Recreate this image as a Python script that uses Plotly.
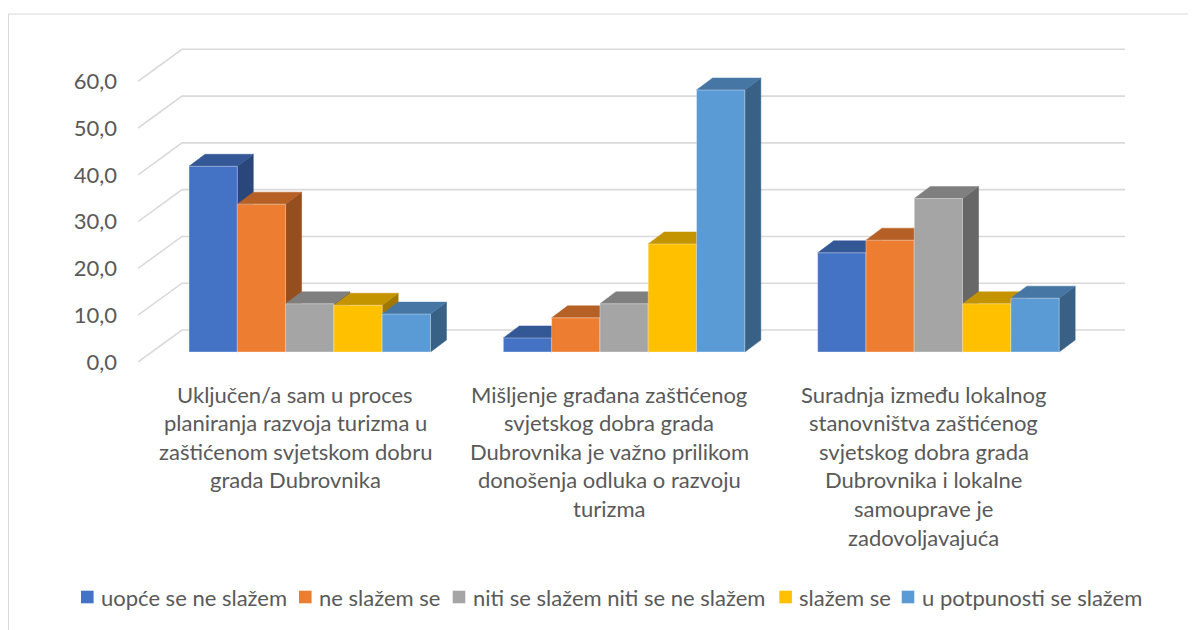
import plotly.graph_objects as go

# ---------------- data ----------------
category_lines = [
    ["Uključen/a sam u proces", "planiranja razvoja turizma u",
     "zaštićenom svjetskom dobru", "grada Dubrovnika"],
    ["Mišljenje građana zaštićenog", "svjetskog dobra grada",
     "Dubrovnika je važno prilikom", "donošenja odluka o razvoju", "turizma"],
    ["Suradnja između lokalnog", "stanovništva zaštićenog",
     "svjetskog dobra grada", "Dubrovnika i lokalne", "samouprave je",
     "zadovoljavajuća"],
]
series_names = ["uopće se ne slažem", "ne slažem se",
                "niti se slažem niti se ne slažem", "slažem se",
                "u potpunosti se slažem"]
v_uopce = [39.7, 3.0, 21.2]
v_ne = [31.6, 7.3, 23.9]
v_niti = [10.3, 10.3, 32.8]
v_slazem = [10.0, 23.1, 10.3]
v_potpuno = [8.1, 56.0, 11.5]
series_values = [v_uopce, v_ne, v_niti, v_slazem, v_potpuno]
y_ticks = [0, 10, 20, 30, 40, 50, 60]

# ---------------- style / geometry (page pixels) ----------------
colors = ["#4472C4", "#ED7D31", "#A5A5A5", "#FFC000", "#5B9BD5"]
FONT = "Lato"
TXT = "#595959"
GRID = "#d9d9d9"

W, H = 1196, 630
BODY = 8                       # default page body margin
PX_L, PX_R = 138, 1125         # plot area in page pixels
PX_BOTTOM, PX_TOP = 362, 40
PPU_Y = 4.678                  # pixels per value unit
PPU_X = 314.33                 # pixels per category


def shade(hexc, f):
    h = hexc.lstrip("#")
    r, g, b = (int(h[i:i + 2], 16) for i in (0, 2, 4))
    return "rgb(%d,%d,%d)" % (r * f, g * f, b * f)


def px_x(px):
    return (px - PX_L) / (PX_R - PX_L)


def px_y(py):
    return (PX_BOTTOM - py) / (PX_BOTTOM - PX_TOP)


x_max = (PX_R - PX_L) / PPU_X
y_max = (PX_BOTTOM - PX_TOP) / PPU_Y
wall_dx = 44 / PPU_X
wall_dy = 32 / PPU_Y
bar_off = 51 / PPU_X
bar_w = 48.3 / PPU_X
bar_base = 10 / PPU_Y
bar_dx = 16 / PPU_X
bar_dy = 12 / PPU_Y

fig = go.Figure()

# gridlines on back wall + side wall diagonals
for t in y_ticks:
    fig.add_trace(go.Scatter(
        x=[0, wall_dx, x_max], y=[t, t + wall_dy, t + wall_dy],
        mode="lines", line=dict(color=GRID, width=1.6),
        hoverinfo="skip", showlegend=False))

# 3D-looking bars
for i in range(len(category_lines)):
    for j, vals in enumerate(series_values):
        v = vals[i]
        x0 = i + bar_off + j * bar_w
        x1 = x0 + bar_w
        y0 = bar_base
        y1 = bar_base + v
        c = colors[j]
        name = series_names[j]
        # side face
        fig.add_trace(go.Scatter(
            x=[x1, x1 + bar_dx, x1 + bar_dx, x1, x1],
            y=[y0, y0 + bar_dy, y1 + bar_dy, y1, y0],
            fill="toself", fillcolor=shade(c, 0.63), mode="lines",
            line=dict(color=shade(c, 0.63), width=0.5),
            hoverinfo="skip", showlegend=False))
        # top face
        fig.add_trace(go.Scatter(
            x=[x0, x1, x1 + bar_dx, x0 + bar_dx, x0],
            y=[y1, y1, y1 + bar_dy, y1 + bar_dy, y1],
            fill="toself", fillcolor=shade(c, 0.77), mode="lines",
            line=dict(color=shade(c, 0.77), width=0.5),
            hoverinfo="skip", showlegend=False))
        # front face
        fig.add_trace(go.Scatter(
            x=[x0, x1, x1, x0, x0],
            y=[y0, y0, y1, y1, y0],
            fill="toself", fillcolor=c, mode="lines",
            line=dict(color="rgba(255,255,255,0.35)", width=1),
            name=name, text=["%.1f" % v] * 5,
            hovertemplate="%{text}<extra>" + name + "</extra>",
            showlegend=False))

# category labels (one annotation per line)
line_gap = 28.6
first_line_py = 394
for i, lines in enumerate(category_lines):
    cx = px_x(PX_L + (i + 0.5) * PPU_X)
    for k, txt in enumerate(lines):
        py = first_line_py + k * line_gap
        fig.add_annotation(
            x=cx, y=px_y(py), xref="paper", yref="paper",
            text=txt, showarrow=False, xanchor="center", yanchor="middle",
            font=dict(family=FONT, size=22, color=TXT))

# legend (square swatch + label)
legend_left = [81, 299, 452.7, 779.3, 901.7]
legend_py = 597
sq = 12.6
for name, c, lx in zip(series_names, colors, legend_left):
    fig.add_shape(type="rect", xref="paper", yref="paper",
                  x0=px_x(lx), x1=px_x(lx + sq),
                  y0=px_y(legend_py + sq / 2), y1=px_y(legend_py - sq / 2),
                  fillcolor=c, line=dict(width=0))
    fig.add_annotation(
        x=px_x(lx + sq + 5.5), y=px_y(legend_py + 0.5), xref="paper", yref="paper",
        text=name, showarrow=False, xanchor="left", yanchor="middle",
        font=dict(family=FONT, size=22, color=TXT))

# outer chart frame
fig.add_shape(type="rect", xref="paper", yref="paper",
              x0=px_x(BODY + 0.5), x1=px_x(1215),
              y0=px_y(660), y1=px_y(14),
              line=dict(color=GRID, width=1), layer="below")

fig.update_layout(
    width=W, height=H,
    margin=dict(l=PX_L - BODY, r=W - (PX_R - BODY),
                t=PX_TOP - BODY, b=H - (PX_BOTTOM - BODY), autoexpand=False),
    paper_bgcolor="white", plot_bgcolor="white",
    separators=", ",
    font=dict(family=FONT, size=22, color=TXT),
    xaxis=dict(range=[0, x_max], showgrid=False, zeroline=False,
               showticklabels=False, showline=False, fixedrange=True),
    yaxis=dict(range=[0, y_max], tickvals=y_ticks, tickformat=".1f",
               showgrid=False, zeroline=False, showline=False,
               ticks="", ticklabelstandoff=20,
               tickfont=dict(family=FONT, size=22, color=TXT),
               fixedrange=True),
    showlegend=False,
)

fig.write_html("out.html")
